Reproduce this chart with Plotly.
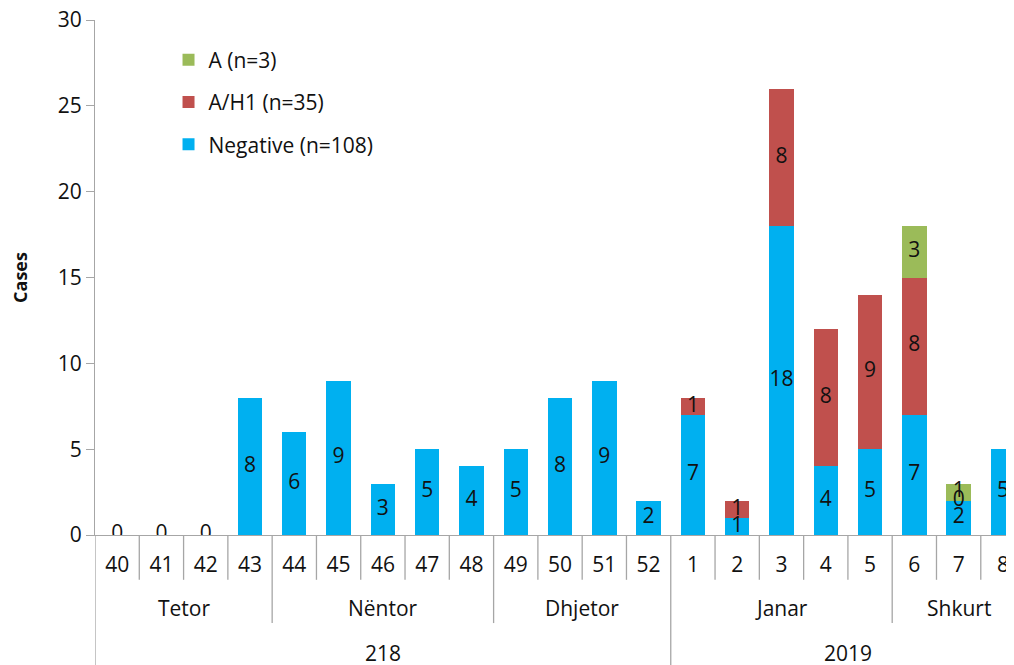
import plotly.graph_objects as go

# Data
weeks = ["40", "41", "42", "43", "44", "45", "46", "47", "48", "49", "50", "51", "52",
         "1", "2", "3", "4", "5", "6", "7", "8"]
months = ["Tetor", "Nëntor", "Dhjetor", "Janar", "Shkurt"]
month_sizes = [4, 5, 4, 5, 3]
years = ["218", "2019"]
year_sizes = [13, 8]

negative = [0, 0, 0, 8, 6, 9, 3, 5, 4, 5, 8, 9, 2, 7, 1, 18, 4, 5, 7, 2, 5]
a_h1 = [None] * 13 + [1, 1, 8, 8, 9, 8, 0, None]
a = [None] * 18 + [3, 1, None]

series = [
    ("Negative (n=108)", negative, "#00B0F0"),
    ("A/H1 (n=35)", a_h1, "#C0504D"),
    ("A (n=3)", a, "#9BBB59"),
]

FONT = "Open Sans"
FS = 21
GREY = "#A6A6A6"
TXT = "#111111"

fig = go.Figure()

idx = list(range(len(weeks)))
base = [0] * len(weeks)
for k, (name, vals, color) in enumerate(series):
    fig.add_trace(go.Bar(
        x=idx, y=[v if v is not None else 0 for v in vals], name=name,
        marker=dict(color=color, line=dict(width=0)),
        legendgroup=name, legendrank=len(series) - k, hoverinfo="skip",
    ))
    # value labels centered in each segment
    tx, ty, tt = [], [], []
    for i, v in enumerate(vals):
        if v is None:
            continue
        tx.append(i)
        ty.append(base[i] + v / 2)
        tt.append(str(v))
        base[i] += v
    fig.add_trace(go.Scatter(
        x=tx, y=ty, text=tt, mode="text", showlegend=False,
        textfont=dict(family=FONT, size=FS, color=TXT),
        hoverinfo="skip",
    ))

# axis table lines
y_week, y_month, y_year = -0.087, -0.171, -0.26
shapes = []
bounds_month = []
pos = 0
for s in month_sizes:
    pos += s
    bounds_month.append(pos - 0.5)
bounds_year = []
pos = 0
for s in year_sizes:
    pos += s
    bounds_year.append(pos - 0.5)
for i in range(len(weeks)):
    b = i - 0.5
    if b == -0.5 or b in bounds_year:
        y1 = y_year
    elif b in bounds_month:
        y1 = y_month
    else:
        y1 = y_week
    shapes.append(dict(type="line", xref="x", yref="paper", x0=b, x1=b,
                       y0=0, y1=y1, line=dict(color=GREY, width=1.3)))

annotations = []
pos = 0
for m, s in zip(months, month_sizes):
    annotations.append(dict(x=pos + (s - 1) / 2, y=-0.1417, xref="x", yref="paper",
                            text=m, showarrow=False, yanchor="middle",
                            font=dict(family=FONT, size=FS, color=TXT)))
    pos += s
pos = 0
for yr, s in zip(years, year_sizes):
    annotations.append(dict(x=pos + (s - 1) / 2, y=-0.229, xref="x", yref="paper",
                            text=yr, showarrow=False, yanchor="middle",
                            font=dict(family=FONT, size=FS, color=TXT)))
    pos += s

# page body has an 8px margin, so the figure is shifted by 8px
fig.update_layout(
    width=1006, height=657,
    margin=dict(l=87, r=0, t=12, b=130, autoexpand=False),
    barmode="stack", bargap=0.45,
    plot_bgcolor="white", paper_bgcolor="white",
    font=dict(family=FONT, size=FS, color=TXT),
    shapes=shapes, annotations=annotations,
    legend=dict(x=0.08, y=0.962, xanchor="left", yanchor="top",
                traceorder="grouped", tracegroupgap=12,
                font=dict(family=FONT, size=FS, color=TXT),
                bgcolor="rgba(0,0,0,0)", itemwidth=30),
    xaxis=dict(range=[-0.5, 20.25], tickmode="array", tickvals=idx, ticktext=weeks,
               showline=True, linecolor=GREY, linewidth=1.3, automargin=False,
               ticks="outside", ticklen=11, tickcolor="rgba(0,0,0,0)",
               showgrid=False, zeroline=False, ticklabeloverflow="allow",
               tickfont=dict(family=FONT, size=FS, color=TXT)),
    yaxis=dict(range=[0, 30], dtick=5, showline=True, linecolor=GREY, linewidth=1.3,
               ticks="outside", ticklen=8, tickcolor=GREY, showgrid=False, zeroline=False,
               automargin=False, ticklabeloverflow="allow",
               tickfont=dict(family=FONT, size=FS, color=TXT),
               title=dict(text="<b>Cases</b>", standoff=30,
                          font=dict(family=FONT, size=18, color="#111111"))),
)

fig.write_html("out.html")
